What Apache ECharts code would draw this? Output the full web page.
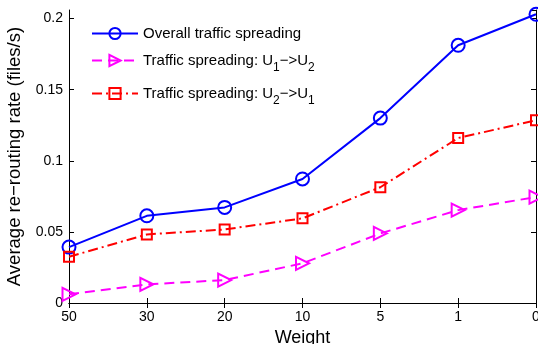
<!DOCTYPE html>
<html>
<head>
<meta charset="utf-8">
<script src="https://cdn.jsdelivr.net/npm/echarts@6/dist/echarts.min.js"></script>
<style>
  html, body { margin: 0; padding: 0; background: #fff; }
  #chart { width: 538px; height: 344px; }
</style>
</head>
<body>
<div id="chart"></div>
<script>
const weights = ['50', '30', '20', '10', '5', '1', '0'];
const overall = [0.0393, 0.0613, 0.0672, 0.0872, 0.1300, 0.1812, 0.2030];
const u1ToU2 = [0.0061, 0.0131, 0.0161, 0.0279, 0.0489, 0.0653, 0.0745];
const u2ToU1 = [0.0325, 0.0482, 0.0517, 0.0595, 0.0814, 0.1160, 0.1285];
const yTicks = { min: 0, max: 0.206, interval: 0.05 };

const font = "'Liberation Sans', Arial, Helvetica, sans-serif";

const chart = echarts.init(document.getElementById('chart'));

const boxAxis = {
  axisLine: { show: true, lineStyle: { color: '#000', width: 1 } },
  axisTick: { show: true, inside: true, length: 5, lineStyle: { color: '#000' } },
  splitLine: { show: false }
};
const catTick = { show: true, inside: true, length: 5, alignWithLabel: true, lineStyle: { color: '#000' } };

const option = {
  animation: false,
  backgroundColor: '#fff',
  textStyle: { fontFamily: font },
  grid: { left: 69, right: 2, top: 10, bottom: 41, containLabel: false, outerBoundsMode: 'none' },
  legend: {
    orient: 'vertical',
    left: 91,
    top: 26,
    padding: 0,
    itemWidth: 46,
    itemHeight: 14,
    itemGap: 12,
    textStyle: {
      fontFamily: font,
      fontSize: 15,
      color: '#000',
      rich: {
        sub: { fontFamily: font, fontSize: 12, verticalAlign: 'bottom', padding: [0, 0, -6, 0] },
        n: { fontFamily: font, fontSize: 15 }
      }
    },
    formatter: function (name) {
      if (name === 'u12') return '{n|Traffic spreading: U}{sub|1}{n|\u2212>U}{sub|2}';
      if (name === 'u21') return '{n|Traffic spreading: U}{sub|2}{n|\u2212>U}{sub|1}';
      return name;
    },
    data: ['Overall traffic spreading', 'u12', 'u21']
  },
  xAxis: [
    {
      type: 'category',
      data: weights,
      boundaryGap: false,
      name: 'Weight',
      nameLocation: 'middle',
      nameGap: 24,
      nameTextStyle: { fontSize: 18, color: '#000', fontFamily: font },
      axisLabel: { fontSize: 14, color: '#000', margin: 7, fontFamily: font },
      ...boxAxis,
      axisTick: catTick
    },
    {
      type: 'category',
      data: weights,
      boundaryGap: false,
      position: 'top',
      axisLabel: { show: false },
      ...boxAxis,
      axisTick: catTick
    }
  ],
  yAxis: [
    {
      type: 'value',
      ...yTicks,
      name: 'Average re\u2212routing rate (files/s)',
      nameLocation: 'middle',
      nameGap: 37,
      nameTextStyle: { fontSize: 18.5, color: '#000', fontFamily: font },
      axisLabel: { fontSize: 14, color: '#000', margin: 6, showMaxLabel: false, fontFamily: font },
      ...boxAxis
    },
    {
      type: 'value',
      ...yTicks,
      position: 'right',
      axisLabel: { show: false },
      ...boxAxis
    }
  ],
  series: [
    {
      name: 'Overall traffic spreading',
      type: 'line',
      data: overall,
      symbol: 'circle',
      symbolSize: 13,
      lineStyle: { color: '#0000ff', width: 2 },
      itemStyle: { color: 'rgba(255,255,255,0)', borderColor: '#0000ff', borderWidth: 2 },
      z: 3
    },
    {
      name: 'u12',
      type: 'line',
      data: u1ToU2,
      symbol: 'triangle',
      symbolRotate: -90,
      symbolSize: 13,
      lineStyle: { color: '#ff00ff', width: 2, type: [10, 6] },
      itemStyle: { color: 'rgba(255,255,255,0)', borderColor: '#ff00ff', borderWidth: 2 }
    },
    {
      name: 'u21',
      type: 'line',
      data: u2ToU1,
      symbol: 'rect',
      symbolSize: 10,
      lineStyle: { color: '#ff0000', width: 2, type: [10, 4, 2, 4] },
      itemStyle: { color: 'rgba(255,255,255,0)', borderColor: '#ff0000', borderWidth: 2 }
    }
  ]
};

chart.setOption(option);
</script>
</body>
</html>
